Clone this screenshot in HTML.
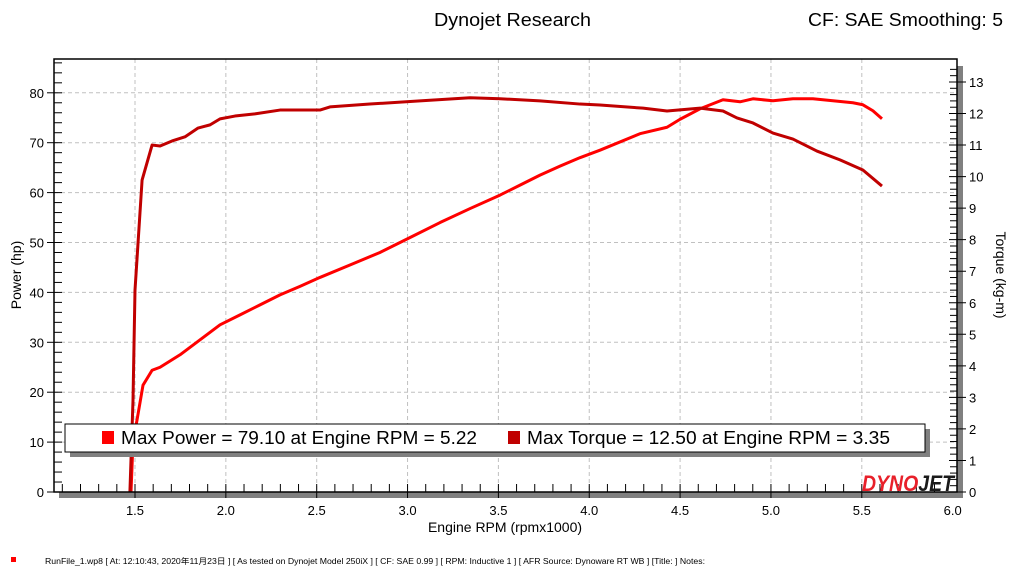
<!DOCTYPE html>
<html><head><meta charset="utf-8"><style>
html,body{margin:0;padding:0;background:#fff;width:1024px;height:576px;overflow:hidden;font-family:"Liberation Sans","Noto Sans CJK JP",sans-serif}
svg text{font-family:"Liberation Sans","Noto Sans CJK JP",sans-serif}
</style></head><body>
<svg id="c" width="1024" height="576" xmlns="http://www.w3.org/2000/svg">
<text x="434" y="26" font-size="18" fill="#000" textLength="157" lengthAdjust="spacingAndGlyphs">Dynojet Research</text>
<text x="808" y="26" font-size="18" fill="#000" textLength="195" lengthAdjust="spacingAndGlyphs">CF: SAE Smoothing: 5</text>
<rect x="957" y="66" width="6" height="432" fill="#808080"/>
<rect x="59" y="492" width="904" height="6" fill="#808080"/>
<g id="grid"></g>
<g id="axes"></g>
<g id="series"></g>
<rect x="54" y="59" width="903" height="433" fill="none" stroke="#000" stroke-width="1.5"/>
<text x="862" y="491" font-size="22" font-weight="bold" font-style="italic" fill="#e8202a" textLength="92" lengthAdjust="spacingAndGlyphs">DYNO<tspan fill="#1a1a1a">JET</tspan></text>
<rect x="70" y="429" width="860" height="28" fill="#808080"/>
<rect x="65" y="424" width="860" height="28" fill="#fff" stroke="#000" stroke-width="1"/>
<rect x="102" y="431" width="12" height="13" fill="#ff0000"/>
<text x="121" y="444" font-size="18" fill="#000" textLength="356" lengthAdjust="spacingAndGlyphs">Max Power = 79.10 at Engine RPM = 5.22</text>
<rect x="508" y="431" width="12" height="13" fill="#c00000"/>
<text x="527" y="444" font-size="18" fill="#000" textLength="363" lengthAdjust="spacingAndGlyphs">Max Torque = 12.50 at Engine RPM = 3.35</text>
<text x="505" y="532" font-size="14" text-anchor="middle" fill="#000">Engine RPM (rpmx1000)</text>
<text transform="translate(21,275) rotate(-90)" font-size="14" text-anchor="middle" fill="#000">Power (hp)</text>
<text transform="translate(996,275) rotate(90)" font-size="14" text-anchor="middle" fill="#000">Torque (kg-m)</text>
<rect x="11" y="557" width="5" height="5" fill="#ff0000"/>
<text x="45" y="564" font-size="8" fill="#000" textLength="660" lengthAdjust="spacingAndGlyphs">RunFile_1.wp8  [  At:  12:10:43,  2020年11月23日 ] [ As tested on Dynojet Model 250iX ] [ CF: SAE 0.99 ] [ RPM: Inductive 1 ] [ AFR Source: Dynoware RT WB ] [Title: ]  Notes:</text>
</svg>
<script>
const xTicks=[1.5,2.0,2.5,3.0,3.5,4.0,4.5,5.0,5.5,6.0];
const hpTicks=[0,10,20,30,40,50,60,70,80];
const tqTicks=[0,1,2,3,4,5,6,7,8,9,10,11,12,13];
const powerRpm=[1.478,1.489,1.511,1.544,1.594,1.638,1.748,1.858,1.968,2.078,2.188,2.298,2.408,2.518,2.683,2.848,3.014,3.179,3.344,3.509,3.619,3.729,3.839,3.949,4.059,4.279,4.428,4.500,4.610,4.736,4.830,4.901,5.011,5.121,5.231,5.341,5.451,5.506,5.561,5.611];
const powerHp=[0,10,14.4,21.4,24.4,25,27.5,30.5,33.5,35.5,37.5,39.5,41.2,43,45.5,48,51,54,56.8,59.5,61.5,63.5,65.3,67,68.5,71.8,73.1,74.7,76.8,78.6,78.2,78.8,78.4,78.8,78.8,78.4,78.0,77.6,76.4,74.8];
const torqueRpm=[1.472,1.489,1.5,1.539,1.594,1.638,1.704,1.775,1.847,1.913,1.968,2.05,2.16,2.298,2.518,2.573,2.793,3.068,3.344,3.509,3.729,3.949,4.059,4.296,4.428,4.610,4.736,4.813,4.901,5.011,5.121,5.253,5.380,5.506,5.611];
const torqueKgm=[0,2.9,6.4,9.89,11.0,10.97,11.13,11.26,11.54,11.64,11.83,11.92,11.99,12.11,12.11,12.21,12.30,12.40,12.50,12.47,12.40,12.30,12.27,12.17,12.08,12.17,12.08,11.86,11.70,11.38,11.19,10.81,10.53,10.21,9.70];
const NS='http://www.w3.org/2000/svg';
const X=v=>135+(v-1.5)*181.7;
const YL=v=>492-v*4.99;
const YR=v=>492-v*31.54;
function mk(tag,attrs,parent){const e=document.createElementNS(NS,tag);for(const k in attrs)e.setAttribute(k,attrs[k]);parent.appendChild(e);return e;}
const grid=document.getElementById('grid'),axes=document.getElementById('axes'),series=document.getElementById('series');
xTicks.forEach(v=>{if(v<6){const l=mk('line',{x1:X(v),x2:X(v),y1:59,y2:492,stroke:'#c0c0c0','stroke-dasharray':'4,3'},grid);

}
const t=mk('text',{x:X(v),y:515,'font-size':13,'text-anchor':'middle',fill:'#000'},axes);t.textContent=v.toFixed(1);

});
hpTicks.forEach(v=>{if(v>0){const l=mk('line',{x1:54,x2:957,y1:YL(v),y2:YL(v),stroke:'#c0c0c0','stroke-dasharray':'4,3'},grid);

}
mk('line',{x1:47,x2:62,y1:YL(v),y2:YL(v),stroke:'#000'},axes);
const t=mk('text',{x:44,y:YL(v)+5,'font-size':13,'text-anchor':'end',fill:'#000'},axes);t.textContent=v;

});
for(let v=2;v<=86;v+=2){if(v%10)mk('line',{x1:54,x2:62,y1:YL(v),y2:YL(v),stroke:'#000'},axes);}
for(let i=11;i<=59;i++){const v=i/10;mk('line',{x1:X(v),x2:X(v),y1:484,y2:i%5?492:498,stroke:'#000'},axes);}
tqTicks.forEach(v=>{mk('line',{x1:949,x2:966,y1:YR(v),y2:YR(v),stroke:'#000'},axes);
const t=mk('text',{x:969,y:YR(v)+5,'font-size':13,fill:'#000'},axes);t.textContent=v;

});
for(let i=1;i<=67;i++){if(i%5)mk('line',{x1:950,x2:957,y1:YR(i/5),y2:YR(i/5),stroke:'#000'},axes);}
const pp=mk('polyline',{points:powerRpm.map((r,i)=>X(r)+','+YL(powerHp[i])).join(' '),fill:'none',stroke:'#ff0000','stroke-width':3,'stroke-linejoin':'round'},series);


const tp=mk('polyline',{points:torqueRpm.map((r,i)=>X(r)+','+YR(torqueKgm[i])).join(' '),fill:'none',stroke:'#c00000','stroke-width':3,'stroke-linejoin':'round'},series);


</script>
</body></html>
